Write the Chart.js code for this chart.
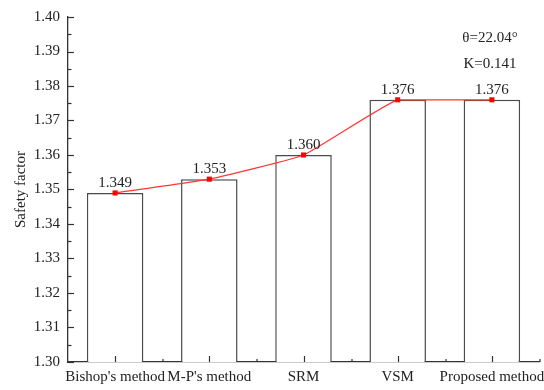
<!DOCTYPE html>
<html>
<head>
<meta charset="utf-8">
<script src="https://cdn.jsdelivr.net/npm/chart.js@4"></script>
<style>
  html, body { margin: 0; padding: 0; background: #fff; }
  #wrap { width: 544px; height: 390px; }
</style>
</head>
<body>
<div id="wrap"><canvas id="chart" width="544" height="390"></canvas></div>
<script>
// Safety factor obtained by each method
const methods = ["Bishop's method", "M-P's method", "SRM", "VSM", "Proposed method"];
const safetyFactors = [1.349, 1.353, 1.360, 1.376, 1.376];
const yTicks = [1.30, 1.31, 1.32, 1.33, 1.34, 1.35, 1.36, 1.37, 1.38, 1.39, 1.40];
const notes = ["\u03B8=22.04\u00B0", "K=0.141"];

const FONT = "'Liberation Serif', 'Times New Roman', serif";
const AXIS_COLOR = '#333';
const TEXT_COLOR = '#222';

// Keep the curve flat between equal neighbouring values
const flatSegments = {
  id: 'flatSegments',
  beforeDatasetDraw(chart, args) {
    if (args.index !== 1) return;
    const line = args.meta.dataset;
    line.updateControlPoints(chart.chartArea, 'x');
    const pts = args.meta.data;
    for (let i = 0; i < pts.length - 1; i++) {
      if (safetyFactors[i] === safetyFactors[i + 1]) {
        pts[i].cp2y = pts[i].y;
        pts[i + 1].cp1y = pts[i + 1].y;
      }
    }
  }
};

// Inward tick marks (major and minor) for both axes, plus value labels and notes
const decorations = {
  id: 'decorations',
  afterDatasetsDraw(chart) {
    const ctx = chart.ctx;
    const x = chart.scales.x, y = chart.scales.y;
    const area = chart.chartArea;
    ctx.save();
    ctx.strokeStyle = AXIS_COLOR;
    ctx.lineWidth = 1.2;
    // y axis ticks
    for (let i = 0; i < yTicks.length; i++) {
      const py = Math.round(y.getPixelForValue(yTicks[i])) + 0.5;
      ctx.beginPath();
      ctx.moveTo(area.left, py);
      ctx.lineTo(area.left + 6, py);
      ctx.stroke();
      if (i < yTicks.length - 1) {
        const pm = Math.round(y.getPixelForValue((yTicks[i] + yTicks[i + 1]) / 2)) + 0.5;
        ctx.beginPath();
        ctx.moveTo(area.left, pm);
        ctx.lineTo(area.left + 3.5, pm);
        ctx.stroke();
      }
    }
    // x axis ticks: at category centres and between categories
    const half = (x.getPixelForValue(1) - x.getPixelForValue(0)) / 2;
    for (let i = 0; i < methods.length; i++) {
      const px = Math.round(x.getPixelForValue(i)) + 0.5;
      ctx.beginPath();
      ctx.moveTo(px, area.bottom);
      ctx.lineTo(px, area.bottom - 6);
      ctx.stroke();
      const pb = Math.round(px + half);
      ctx.beginPath();
      ctx.moveTo(pb, area.bottom);
      ctx.lineTo(pb, area.bottom - 3);
      ctx.stroke();
    }
    // value labels above the line markers
    ctx.fillStyle = TEXT_COLOR;
    ctx.font = '15px ' + FONT;
    ctx.textAlign = 'center';
    ctx.textBaseline = 'alphabetic';
    const meta = chart.getDatasetMeta(1);
    meta.data.forEach((pt, i) => {
      ctx.fillText(safetyFactors[i].toFixed(3), pt.x, pt.y - 6);
    });
    // notes in the upper right
    ctx.textBaseline = 'middle';
    ctx.fillText(notes[0], 490, 38);
    ctx.fillText(notes[1], 490, 64);
    ctx.restore();
  }
};

new Chart(document.getElementById('chart'), {
  data: {
    labels: methods,
    datasets: [
      {
        type: 'bar',
        data: safetyFactors,
        backgroundColor: '#ffffff',
        borderColor: '#4a4a4a',
        borderWidth: 1.5,
        borderSkipped: 'bottom',
        barPercentage: 0.6,
        categoryPercentage: 1.0,
        order: 2
      },
      {
        type: 'line',
        data: safetyFactors,
        borderColor: '#ff3535',
        borderWidth: 1.2,
        tension: 0.12,
        pointStyle: 'rect',
        pointRadius: 3.6,
        pointBackgroundColor: '#ff0000',
        pointBorderColor: '#ff0000',
        pointBorderWidth: 0,
        fill: false,
        order: 1
      }
    ]
  },
  options: {
    responsive: false,
    animation: false,
    devicePixelRatio: 1,
    layout: { padding: { top: 15, right: 5, left: 0, bottom: 0 } },
    plugins: {
      legend: { display: false },
      tooltip: { enabled: false }
    },
    scales: {
      x: {
        offset: true,
        grid: { display: false, drawTicks: false },
        border: { display: true, color: AXIS_COLOR, width: 1.3 },
        ticks: {
          color: TEXT_COLOR,
          font: { family: FONT, size: 15 },
          padding: 6,
          maxRotation: 0,
          autoSkip: false
        },
        afterFit(scale) {
          scale.height = 28;
          scale.paddingLeft = 0;
          scale.paddingRight = 0;
        }
      },
      y: {
        min: 1.30,
        max: 1.40,
        grid: { display: false, drawTicks: false },
        border: { display: true, color: AXIS_COLOR, width: 1.3 },
        afterBuildTicks(scale) { scale.ticks = yTicks.map(v => ({ value: v })); },
        ticks: {
          color: TEXT_COLOR,
          font: { family: FONT, size: 15 },
          padding: 8,
          callback: v => Number(v).toFixed(2)
        },
        title: {
          display: true,
          text: 'Safety factor',
          color: TEXT_COLOR,
          font: { family: FONT, size: 15 },
          padding: { top: 12, bottom: 0 }
        },
        afterFit(scale) { scale.width = 68; }
      }
    }
  },
  plugins: [flatSegments, decorations]
});
</script>
</body>
</html>
